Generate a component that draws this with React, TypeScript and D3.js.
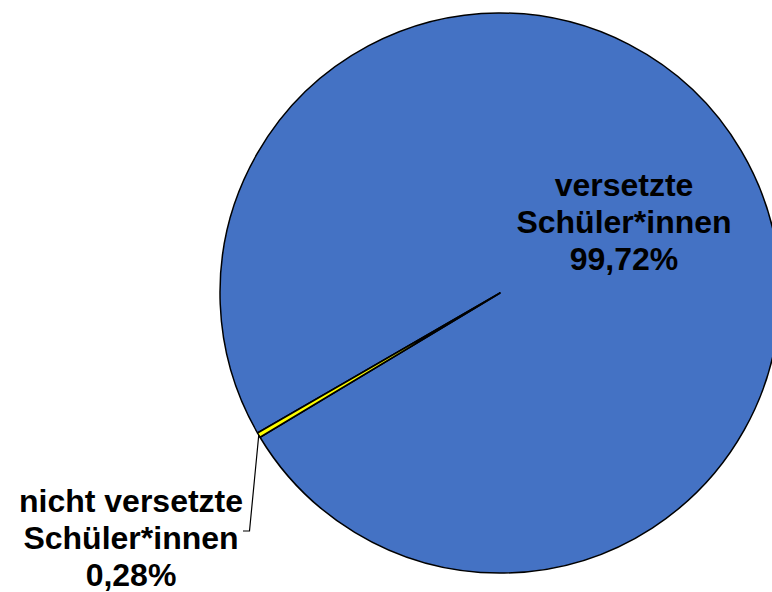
import React from "react";
import * as d3 from "d3";

const categories: string[] = ["versetzte Schüler*innen", "nicht versetzte Schüler*innen"];
const values: number[] = [99.72, 0.28];
const labelLines: string[][] = [
  ["versetzte", "Schüler*innen", "99,72%"],
  ["nicht versetzte", "Schüler*innen", "0,28%"],
];
const colors: string[] = ["#4472C4", "#FFFF00"];

const W = 772;
const H = 592;
const CX = 500;
const CY = 293;
const R = 280;
const START = (240 * Math.PI) / 180;

export default function App() {
  const pie = d3
    .pie<number>()
    .sort(null)
    .value((d) => d)
    .startAngle(START)
    .endAngle(START + 2 * Math.PI);
  const arcs = pie(values);
  const arcGen = d3.arc<d3.PieArcDatum<number>>().innerRadius(0).outerRadius(R);

  const small = arcs[1];
  const mid = (small.startAngle + small.endAngle) / 2;
  const ex = CX + R * Math.sin(mid);
  const ey = CY - R * Math.cos(mid);
  const leader = d3.line()([
    [ex, ey],
    [249.5, 531],
    [243, 531],
  ]);

  const labelPos = [
    { x: 624, y: 196 },
    { x: 131, y: 512 },
  ];
  const lineH = 37;

  return (
    <svg
      width={W}
      height={H}
      style={{ position: "absolute", left: 0, top: 0, background: "#fff" }}
    >
      <g transform={`translate(${CX},${CY})`}>
        {arcs.map((a, i) => (
          <path
            key={categories[i]}
            d={arcGen(a) || ""}
            fill={colors[i]}
            stroke="#000"
            strokeWidth={1.5}
            strokeLinejoin="round"
          />
        ))}
      </g>
      <path d={leader || ""} fill="none" stroke="#000" strokeWidth={1.2} />
      {labelLines.map((lines, i) => (
        <text
          key={categories[i]}
          textAnchor="middle"
          fontFamily="'Liberation Sans', Arial, sans-serif"
          fontWeight="bold"
          fontSize={32}
          fill="#000"
        >
          {lines.map((t, j) => (
            <tspan key={j} x={labelPos[i].x} y={labelPos[i].y + j * lineH}>
              {t}
            </tspan>
          ))}
        </text>
      ))}
    </svg>
  );
}
